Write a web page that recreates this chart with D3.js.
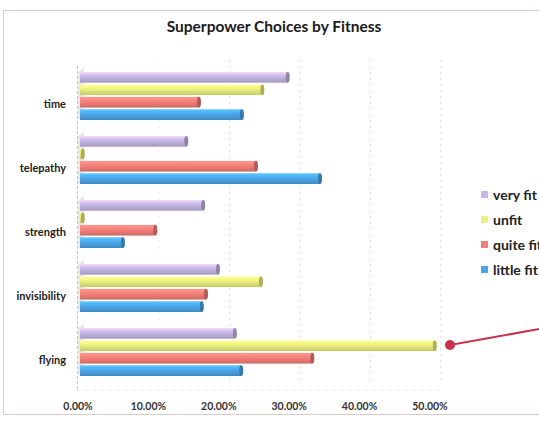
<!DOCTYPE html>
<html>
<head>
<meta charset="utf-8">
<script src="https://cdn.jsdelivr.net/npm/d3@7"></script>
<style>
  body { margin: 0; background: #fff; }
  text { font-family: Lato, "Open Sans", sans-serif; }
</style>
</head>
<body>
<div id="chart-area"></div>
<script>
const categories = ["time", "telepathy", "strength", "invisibility", "flying"];
const seriesNames = ["very fit", "unfit", "quite fit", "little fit"];
// percentages per category, in series order
const veryFit   = [29.5, 15.1, 17.5, 19.6, 22.0];
const unfit     = [25.9, 0.4, 0.4, 25.7, 50.4];
const quiteFit  = [16.9, 25.0, 10.7, 17.9, 33.0];
const littleFit = [23.0, 34.1, 6.1, 17.3, 22.9];
const tickValues = [0, 10, 20, 30, 40, 50];
const seriesColors = ["#c6b6e6", "#eaf07e", "#f47f79", "#4aa6ea"];

const width = 539, height = 421;
const depth = 9;

const svg = d3.select("#chart-area")
  .append("svg")
    .attr("width", width)
    .attr("height", height);

const seriesValues = [veryFit, unfit, quiteFit, littleFit];
const data = categories.map((c, i) => ({
  category: c,
  values: seriesNames.map((s, j) => ({ series: s, idx: j, value: seriesValues[j][i] }))
}));

const xScale = d3.scaleLinear().domain([0, 50]).range([80, 432]);
const yScale = d3.scaleBand().domain(categories).range([64, 384])
  .paddingInner(0.25).paddingOuter(0.125);
const ySub = d3.scaleBand().domain(seriesNames).range([0, yScale.bandwidth()])
  .paddingInner(0.14);

// gradients for the cylinder look
const defs = svg.append("defs");
seriesColors.forEach((col, i) => {
  const g = defs.append("linearGradient")
    .attr("id", "grad" + i)
    .attr("x1", 0).attr("y1", 0).attr("x2", 0).attr("y2", 1);
  const c = d3.color(col);
  g.append("stop").attr("offset", "0%").attr("stop-color", c.brighter(0.5));
  g.append("stop").attr("offset", "45%").attr("stop-color", col);
  g.append("stop").attr("offset", "100%").attr("stop-color", c.darker(0.5));
});

// chart frame
svg.append("rect")
  .attr("x", 3.5).attr("y", 10.5)
  .attr("width", 560).attr("height", 404)
  .attr("fill", "none")
  .attr("stroke", "#dccaca");

svg.append("text")
  .attr("x", 274)
  .attr("y", 32)
  .attr("text-anchor", "middle")
  .style("font-size", "15.5px")
  .style("font-weight", "bold")
  .style("fill", "#1a1a1a")
  .text("Superpower Choices by Fitness");

// back wall gridlines, shifted for depth
svg.append("g")
  .selectAll("line")
  .data(tickValues.slice(1))
  .join("line")
    .attr("x1", d => xScale(d) + depth)
    .attr("x2", d => xScale(d) + depth)
    .attr("y1", 60)
    .attr("y2", 384)
    .attr("stroke", d => d === 10 ? "#eeeeee" : "#d6d6d6")
    .attr("stroke-dasharray", "2,4");

// left wall
svg.append("line")
  .attr("x1", 77.5).attr("x2", 77.5)
  .attr("y1", 66).attr("y2", 390)
  .attr("stroke", "#c4c4c4")
  .attr("stroke-dasharray", "3,2");
svg.append("line")
  .attr("x1", 77).attr("x2", 440)
  .attr("y1", 390.5).attr("y2", 390.5)
  .attr("stroke", "#e6e6e6")
  .attr("stroke-dasharray", "3,5");

// bars
const groups = svg.append("g")
  .selectAll("g")
  .data(data)
  .join("g")
    .attr("transform", d => `translate(0,${yScale(d.category)})`);

groups.append("path")
  .attr("d", `M78,0 L84,-5 L84,${yScale.bandwidth() - 4} L78,${yScale.bandwidth()}Z`)
  .attr("fill", "#d8d8d8")
  .attr("opacity", 0.6);

const bars = groups.selectAll("g.bar")
  .data(d => d.values)
  .join("g")
    .attr("class", "bar");

bars.append("rect")
  .attr("x", xScale(0))
  .attr("y", d => ySub(d.series))
  .attr("width", d => Math.max(1, xScale(d.value) - xScale(0)))
  .attr("height", ySub.bandwidth())
  .attr("fill", d => `url(#grad${d.idx})`);

bars.append("ellipse")
  .attr("cx", d => xScale(d.value))
  .attr("cy", d => ySub(d.series) + ySub.bandwidth() / 2)
  .attr("rx", 2)
  .attr("ry", ySub.bandwidth() / 2)
  .attr("fill", d => d3.color(seriesColors[d.idx]).darker(0.9));

// category labels
svg.append("g")
  .selectAll("text")
  .data(categories)
  .join("text")
    .attr("x", 66)
    .attr("y", d => yScale(d) + yScale.bandwidth() / 2 + 12)
    .attr("text-anchor", "end")
    .style("font-size", "11px")
    .style("font-weight", "bold")
    .style("fill", "#222")
    .text(d => d);

// x tick labels
svg.append("g")
  .selectAll("text")
  .data(tickValues)
  .join("text")
    .attr("x", d => xScale(d) - 2)
    .attr("y", 410)
    .attr("text-anchor", "middle")
    .style("font-size", "10.5px")
    .style("font-weight", "bold")
    .style("fill", "#333")
    .text(d => d3.format(".2f")(d) + "%");

// legend
const legend = svg.append("g")
  .attr("transform", "translate(481,195)");
seriesNames.forEach((s, i) => {
  const row = legend.append("g").attr("transform", `translate(0,${i * 25})`);
  row.append("rect")
    .attr("x", 0).attr("y", -4)
    .attr("width", 7).attr("height", 7)
    .attr("fill", seriesColors[i]);
  row.append("text")
    .attr("x", 12)
    .attr("y", 5)
    .style("font-size", "14px")
    .style("font-weight", "bold")
    .style("fill", "#222")
    .text(s);
});

// hand-drawn style annotation pointer
svg.append("line")
  .attr("x1", 450).attr("y1", 345)
  .attr("x2", 545).attr("y2", 328)
  .attr("stroke", "#c7324e")
  .attr("stroke-width", 2);
svg.append("circle")
  .attr("cx", 450).attr("cy", 345)
  .attr("r", 5)
  .attr("fill", "#c7324e");
</script>
</body>
</html>
